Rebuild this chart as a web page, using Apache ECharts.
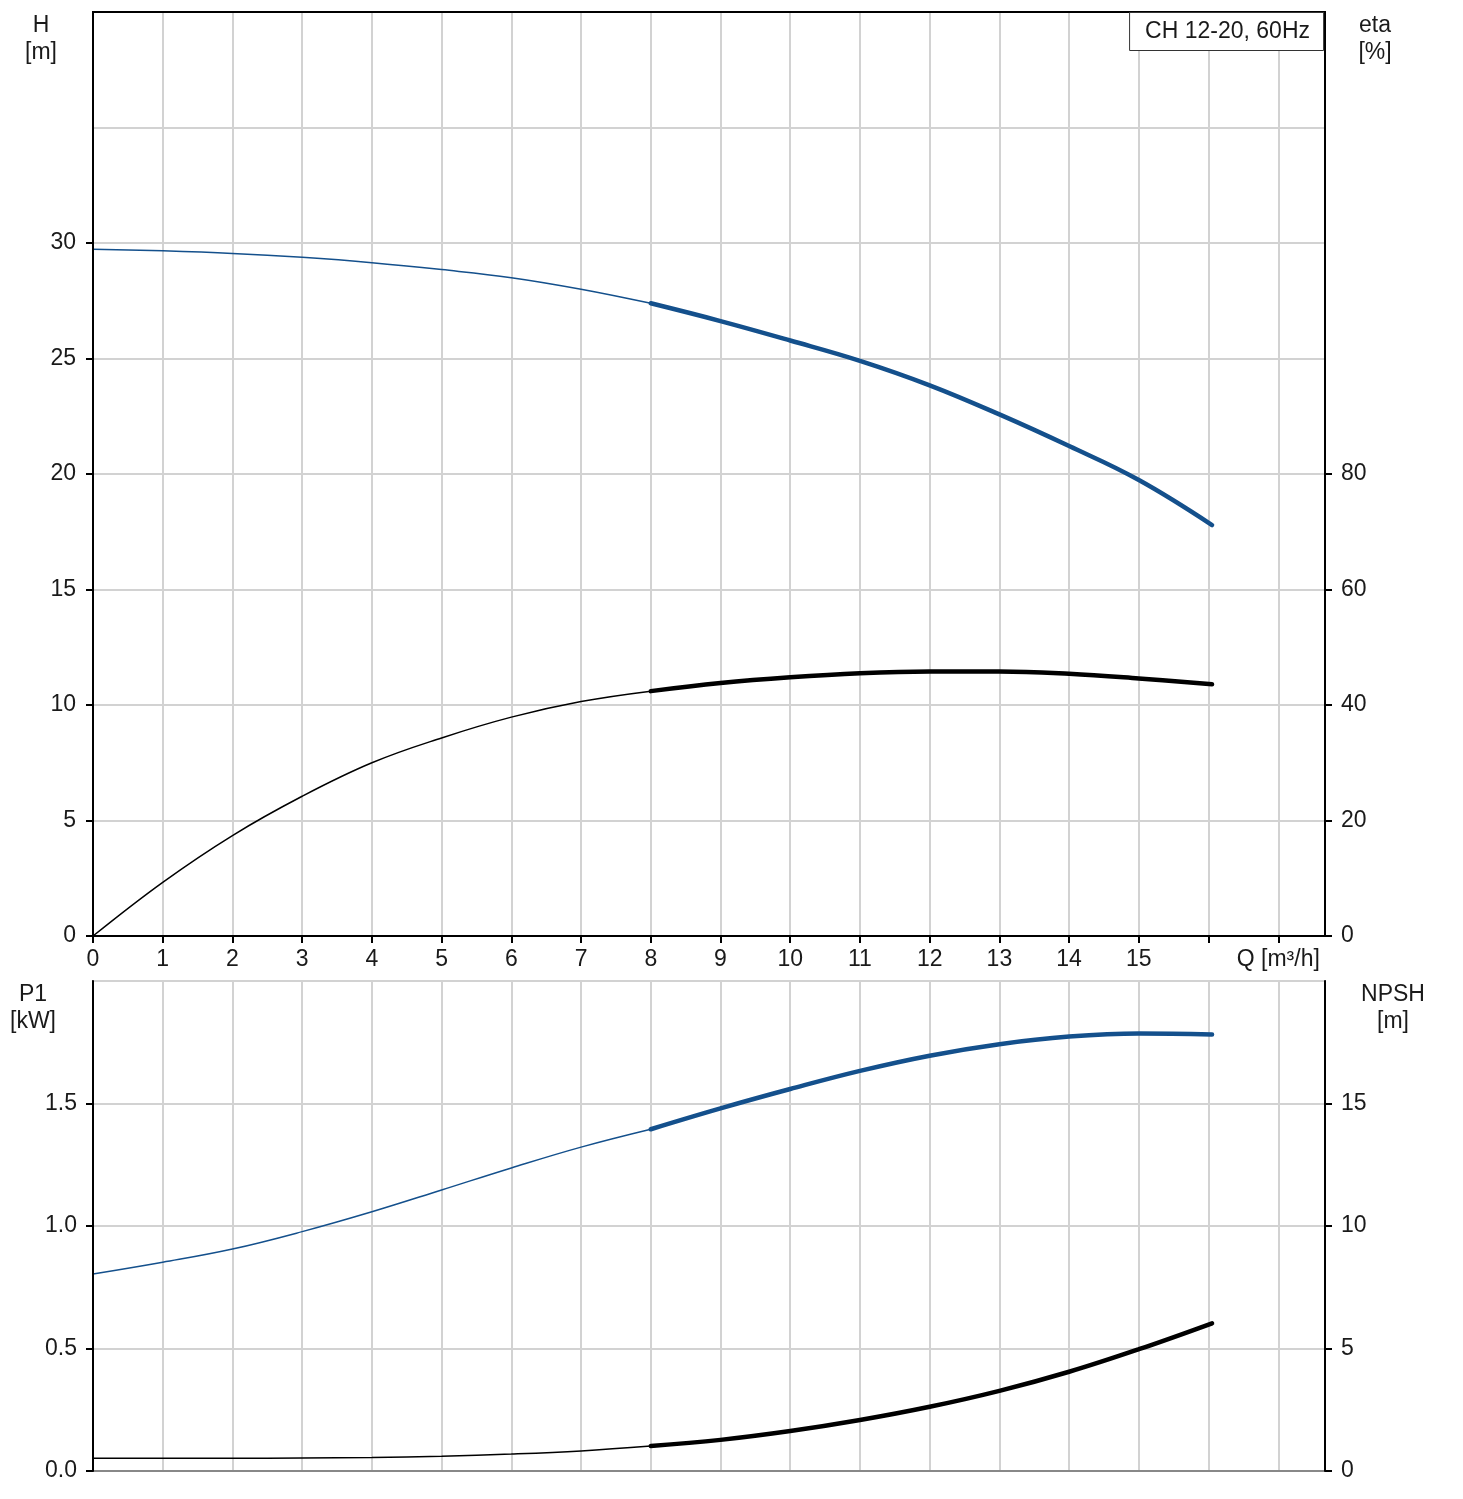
<!DOCTYPE html>
<html>
<head>
<meta charset="utf-8">
<script src="https://cdn.jsdelivr.net/npm/echarts@6/dist/echarts.min.js"></script>
<style>
  html, body { margin: 0; padding: 0; background: #fff; }
  #main { width: 1463px; height: 1499px; }
</style>
</head>
<body>
<div id="main"></div>
<script>
var chart = echarts.init(document.getElementById('main'));

// flow Q [m3/h]
var qValues = [0, 1, 2, 3, 4, 5, 6, 7, 8, 9, 10, 11, 12, 13, 14, 15, 16.05];
// head H [m]
var headValues = [29.73, 29.66, 29.55, 29.38, 29.15, 28.85, 28.5, 28.0, 27.39, 26.62, 25.78, 24.9, 23.84, 22.58, 21.21, 19.74, 17.79];
// efficiency eta [%]
var etaValues = [0, 9.3, 17.4, 24.2, 30.0, 34.3, 37.9, 40.6, 42.4, 43.8, 44.8, 45.5, 45.8, 45.8, 45.4, 44.6, 43.6];
// power P1 [kW]
var powerValues = [0.804, 0.852, 0.906, 0.977, 1.058, 1.147, 1.237, 1.322, 1.395, 1.48, 1.559, 1.633, 1.695, 1.742, 1.773, 1.786, 1.782];
// NPSH [m]
var npshValues = [0.52, 0.52, 0.52, 0.53, 0.55, 0.6, 0.69, 0.82, 1.02, 1.27, 1.63, 2.08, 2.62, 3.27, 4.05, 4.97, 6.03];

var xTicks = [0, 1, 2, 3, 4, 5, 6, 7, 8, 9, 10, 11, 12, 13, 14, 15, 16, 17];
var hTicks = [0, 5, 10, 15, 20, 25, 30];
var etaTicks = [0, 20, 40, 60, 80];
var p1Ticks = [0, 0.5, 1.0, 1.5];
var npshTicks = [0, 5, 10, 15];
var qLabel = 'Q [m³/h]';
var pumpName = 'CH 12-20, 60Hz';

var BLUE = '#14508c';
var GRIDC = '#d2d2d2';
var FONT = 'Liberation Sans, Arial, sans-serif';
var split = 8; // index where the thin part ends

function pairs(ys, from, to) {
    var out = [];
    for (var i = from; i <= to; i++) out.push([qValues[i], ys[i]]);
    return out;
}
var last = qValues.length - 1;

var labelFont = { fontFamily: FONT, fontSize: 23, color: '#1a1a1a' };

function valueAxis(o, ticks, margin) {
    return Object.assign({
        type: 'value',
        axisLine: { show: true, lineStyle: { color: '#000', width: 2 } },
        axisTick: { show: true, length: 7, customValues: ticks, lineStyle: { color: '#000', width: 2 } },
        axisLabel: Object.assign({ margin: margin, customValues: ticks }, labelFont),
        splitLine: { show: false }
    }, o);
}

function gridAxis(grid, max, interval) {
    return {
        type: 'value', gridIndex: grid, min: 0, max: max, interval: interval,
        axisLine: { show: false }, axisTick: { show: false }, axisLabel: { show: false },
        splitLine: { show: true, lineStyle: { color: GRIDC, width: 2 } }
    };
}

function curve(xi, yi, ys, thick, color) {
    return {
        type: 'line', xAxisIndex: xi, yAxisIndex: yi,
        smooth: 0.4, showSymbol: false,
        lineStyle: { color: color, width: thick ? 4.5 : 1.5, cap: 'round' },
        data: thick ? pairs(ys, split, last) : pairs(ys, 0, split)
    };
}

function axisTitle(x, y, text) {
    return { type: 'text', x: x, y: y, z: 10,
        style: { text: text, align: 'center', verticalAlign: 'top', fontFamily: FONT, fontSize: 23, lineHeight: 27, fill: '#1a1a1a' } };
}

var X_MAX = 17.67;

chart.setOption({
    animation: false,
    backgroundColor: '#fff',
    title: {
        text: pumpName,
        right: 139, top: 12, z: 10,
        padding: [8, 14, 8, 16],
        backgroundColor: '#fff',
        borderColor: '#333', borderWidth: 1,
        textStyle: { fontFamily: FONT, fontSize: 23, fontWeight: 'normal', color: '#1a1a1a' }
    },
    graphic: [
        axisTitle(41, 12, 'H\n[m]'),
        axisTitle(1375, 12, 'eta\n[%]'),
        axisTitle(33, 981, 'P1\n[kW]'),
        axisTitle(1393, 981, 'NPSH\n[m]')
    ],
    grid: [
        { left: 93, right: 138, top: 12, height: 924, show: true, z: 5, borderColor: '#000', borderWidth: 2 },
        { left: 93, right: 138, top: 981, height: 490, show: true, borderColor: '#999', borderWidth: 2 }
    ],
    xAxis: [
        {
            type: 'value', gridIndex: 0, min: 0, max: X_MAX, interval: 1,
            axisLine: { show: true, onZero: false, lineStyle: { color: '#000', width: 2 } },
            axisTick: { show: true, length: 7, customValues: xTicks, lineStyle: { color: '#000', width: 2 } },
            axisLabel: Object.assign({
                margin: 12, customValues: xTicks,
                formatter: function (v) {
                    if (v <= 15) return String(v);
                    if (v === 17) return qLabel;
                    return '';
                }
            }, labelFont),
            splitLine: { show: true, lineStyle: { color: GRIDC, width: 2 } }
        },
        {
            type: 'value', gridIndex: 1, min: 0, max: X_MAX, interval: 1,
            axisLine: { show: true, onZero: false, lineStyle: { color: '#888', width: 2 } },
            axisTick: { show: false }, axisLabel: { show: false },
            splitLine: { show: true, lineStyle: { color: GRIDC, width: 2 } }
        }
    ],
    yAxis: [
        gridAxis(0, 40, 5),
        valueAxis({ gridIndex: 0, position: 'left', min: 0, max: 40, interval: 5 }, hTicks, 17),
        valueAxis({ gridIndex: 0, position: 'right', min: 0, max: 160, interval: 20 }, etaTicks, 16),
        gridAxis(1, 2, 0.5),
        valueAxis({ gridIndex: 1, position: 'left', min: 0, max: 2, interval: 0.5, z: 6 }, p1Ticks, 16),
        valueAxis({ gridIndex: 1, position: 'right', min: 0, max: 20, interval: 5, z: 6 }, npshTicks, 16)
    ],
    series: [
        curve(0, 1, headValues, false, BLUE),
        curve(0, 1, headValues, true, BLUE),
        curve(0, 2, etaValues, false, '#000'),
        curve(0, 2, etaValues, true, '#000'),
        curve(1, 4, powerValues, false, BLUE),
        curve(1, 4, powerValues, true, BLUE),
        curve(1, 5, npshValues, false, '#000'),
        curve(1, 5, npshValues, true, '#000')
    ]
});
// P1 labels with one decimal
chart.setOption({ yAxis: [{}, {}, {}, {}, { axisLabel: { formatter: function (v) { return v.toFixed(1); } } }, {}] });

window.addEventListener('resize', function () {
    chart.resize();
});
</script>
</body>
</html>
